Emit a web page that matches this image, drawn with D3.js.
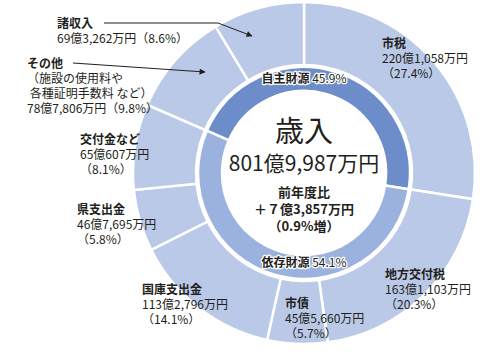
<!DOCTYPE html>
<html>
<head>
<meta charset="utf-8">
<script src="https://cdn.jsdelivr.net/npm/d3@7"></script>
<style>
  body { margin: 0; background: #fff; }
  text { font-family: "Noto Sans CJK JP", "Noto Sans", sans-serif; fill: #231f20; }
</style>
</head>
<body>
<div id="canvas"></div>
<script>
// 歳入の内訳（万円）
const categories = ["市税", "地方交付税", "市債", "国庫支出金", "県支出金", "交付金など", "その他", "諸収入"];
const amounts = [2201058, 1631103, 455660, 1132796, 467695, 650607, 787806, 693262];
const amountLabels = ["220億1,058万円", "163億1,103万円", "45億5,660万円", "113億2,796万円", "46億7,695万円", "65億607万円", "78億7,806万円", "69億3,262万円"];
const percentLabels = ["27.4%", "20.3%", "5.7%", "14.1%", "5.8%", "8.1%", "9.8%", "8.6%"];

const groups = ["自主財源", "依存財源"];
const groupPercents = ["45.9%", "54.1%"];
const groupMembers = [["市税", "その他", "諸収入"], ["地方交付税", "市債", "国庫支出金", "県支出金", "交付金など"]];

const width = 489;
const height = 354;
const cx = 304, cy = 173;

const svg = d3.select("#canvas").append("svg")
  .attr("width", width)
  .attr("height", height);

const g = svg.append("g").attr("transform", `translate(${cx},${cy})`);

const outerData = categories.map((c, i) => ({ name: c, value: amounts[i] }));

const pie = d3.pie().sort(null).value(d => d.value);
const outerArcs = pie(outerData);

const outerArc = d3.arc().innerRadius(108).outerRadius(171);
g.selectAll("path.outer")
  .data(outerArcs)
  .enter()
  .append("path")
  .attr("class", "outer")
  .attr("d", outerArc)
  .attr("fill", "#bac9e7")
  .attr("stroke", "#fff")
  .attr("stroke-width", 2.5);

// inner ring starts where その他 begins
const groupData = groups.map((grp, i) => ({
  name: grp,
  value: d3.sum(groupMembers[i].map(m => amounts[categories.indexOf(m)]))
}));
const startA = outerArcs[categories.indexOf("その他")].startAngle - 2 * Math.PI;
const innerPie = d3.pie().sort(null).value(d => d.value)
  .startAngle(startA).endAngle(startA + 2 * Math.PI);
const innerArc = d3.arc().innerRadius(82).outerRadius(106);
const groupColors = ["#6c8dca", "#9bb2de"];

g.selectAll("path.inner")
  .data(innerPie(groupData))
  .enter()
  .append("path")
  .attr("class", "inner")
  .attr("d", innerArc)
  .attr("fill", (d, i) => groupColors[i])
  .attr("stroke", "#fff")
  .attr("stroke-width", 2.5);

// group labels on the inner ring
const groupLabelY = [-90, 94];
groups.forEach((grp, i) => {
  const t = g.append("text")
    .attr("x", 0)
    .attr("y", groupLabelY[i])
    .attr("text-anchor", "middle")
    .style("font-size", "12px")
    .style("paint-order", "stroke")
    .style("stroke", "#fff")
    .style("stroke-width", 2.5)
    .style("stroke-linejoin", "round");
  t.append("tspan").style("font-weight", 700).text(grp);
  t.append("tspan").text(" " + groupPercents[i]);
});

// center text
g.append("text").attr("y", -31).attr("text-anchor", "middle")
  .style("font-size", "29px").text("歳入");
g.append("text").attr("y", -2).attr("text-anchor", "middle")
  .style("font-size", "21px").text("801億9,987万円");
const diffLines = ["前年度比", "＋７億3,857万円", "（0.9%増）"];
diffLines.forEach((l, i) => {
  g.append("text").attr("y", 24 + i * 17).attr("text-anchor", "middle")
    .style("font-size", "13px").style("font-weight", 700).text(l);
});

// category labels
const labelPos = {
  "市税": { x: 382, y: 48, lines: 2 },
  "地方交付税": { x: 385, y: 279, lines: 2 },
  "市債": { x: 285, y: 308, lines: 2 },
  "国庫支出金": { x: 142, y: 294, lines: 2 },
  "県支出金": { x: 77, y: 214, lines: 2 },
  "交付金など": { x: 80, y: 144, lines: 2 },
  "その他": { x: 27, y: 68, lines: 2 },
  "諸収入": { x: 57, y: 28, lines: 1 }
};
const otherNote = ["（施設の使用料や", " 各種証明手数料 など）"];
const lh = 15;

categories.forEach((c, i) => {
  const p = labelPos[c];
  const t = svg.append("text").attr("x", p.x).attr("y", p.y).style("font-size", "12px");
  t.append("tspan").attr("x", p.x).style("font-weight", 700).text(c);
  let lines;
  if (c === "その他") {
    lines = [...otherNote, amountLabels[i] + "（" + percentLabels[i] + "）"];
  } else if (p.lines === 1) {
    lines = [amountLabels[i] + "（" + percentLabels[i] + "）"];
  } else {
    lines = [amountLabels[i], "（" + percentLabels[i] + "）"];
  }
  lines.forEach(l => {
    t.append("tspan").attr("x", p.x).attr("dy", lh).text(l);
  });
});

// arrows
svg.append("defs").append("marker")
  .attr("id", "arrow")
  .attr("viewBox", "0 0 10 10")
  .attr("refX", 9).attr("refY", 5)
  .attr("markerWidth", 9).attr("markerHeight", 6)
  .attr("markerUnits", "userSpaceOnUse")
  .attr("orient", "auto")
  .append("path").attr("d", "M0,0L10,5L0,10z").attr("fill", "#231f20");

const arrows = [
  [[104, 23], [218, 23], [252, 36]],
  [[73, 63], [205, 72]]
];
arrows.forEach(pts => {
  svg.append("path")
    .attr("d", d3.line()(pts))
    .attr("fill", "none")
    .attr("stroke", "#231f20")
    .attr("stroke-width", 1)
    .attr("marker-end", "url(#arrow)");
});
</script>
</body>
</html>
